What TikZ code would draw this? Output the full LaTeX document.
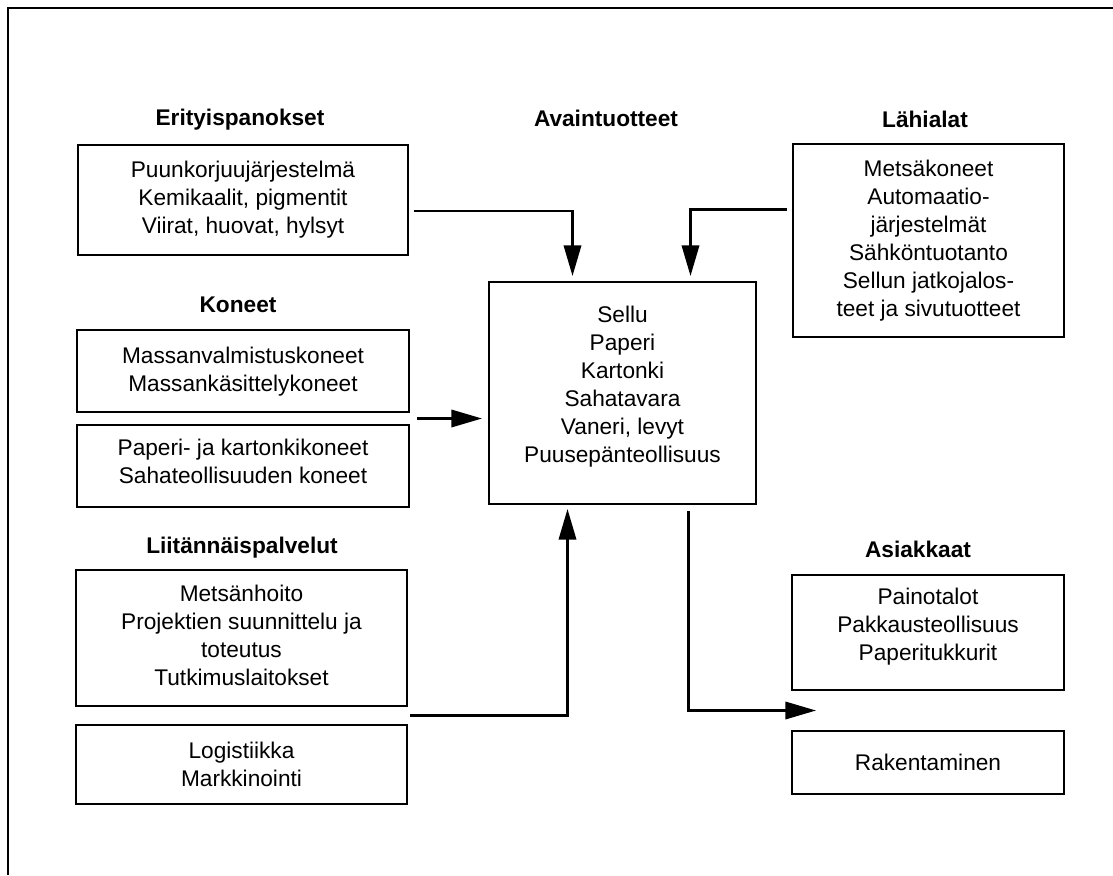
\documentclass[tikz,border=0pt]{standalone}
\usepackage{fontspec}
\setmainfont{Liberation Sans}
\usetikzlibrary{arrows.meta,calc}
\newcommand{\boxfont}{\fontsize{17}{21}\selectfont}
\begin{document}
\begin{tikzpicture}[x=0.75pt,y=-0.75pt,
  box/.style={draw,line width=1.5pt,inner sep=0pt,align=center,font=\boxfont},
  ttl/.style={font=\boxfont\bfseries,inner sep=0pt,anchor=base},
  arr/.style={line width=1.9pt,-{Triangle[length=23pt,width=13pt]}},
  frame/.style={line width=1.2pt}]
\useasboundingbox (0,0) rectangle (1113,875);
\coordinate (fa) at (1113,8);
\coordinate (fb) at (8,8);
\coordinate (fc) at (8,875);
\draw[frame] (fa) -- (fb) -- (fc);

% titles
\node[ttl] (t1) at (240,125) {Erityispanokset};
\node[ttl] (t2) at (238,312) {Koneet};
\node[ttl] (t3) at (242,553) {Liitännäispalvelut};
\node[ttl] (t4) at (606,126) {Avaintuotteet};
\node[ttl] (t5) at (925,127) {Lähialat};
\node[ttl] (t6) at (918,557) {Asiakkaat};

% boxes
\node[box,minimum width=247.5pt,minimum height=82.5pt] (b1) at (243,200)
  {Puunkorjuujärjestelmä\\Kemikaalit, pigmentit\\Viirat, huovat, hylsyt};
\node[box,minimum width=249pt,minimum height=61.5pt,text depth=3pt] (b2) at (243,371)
  {Massanvalmistuskoneet\\Massankäsittelykoneet};
\node[box,minimum width=249pt,minimum height=61.5pt,text depth=7.5pt] (b3) at (243,466)
  {Paperi- ja kartonkikoneet\\Sahateollisuuden koneet};
\node[box,minimum width=248.25pt,minimum height=102pt,text depth=4.5pt] (b4) at (241.5,638)
  {Metsänhoito\\Projektien suunnittelu ja\\toteutus\\Tutkimuslaitokset};
\node[box,minimum width=248.25pt,minimum height=59.25pt] (b5) at (241.5,764.5)
  {Logistiikka\\Markkinointi};
\node[box,minimum width=200.25pt,minimum height=166.5pt,text depth=12.6pt] (c) at (622.5,393)
  {Sellu\\Paperi\\Kartonki\\Sahatavara\\Vaneri, levyt\\Puusepänteollisuus};
\node[box,minimum width=203.25pt,minimum height=144.75pt] (l) at (928.5,240.5)
  {Metsäkoneet\\Automaatio-\\järjestelmät\\Sähköntuotanto\\Sellun jatkojalos-\\teet ja sivutuotteet};
\node[box,minimum width=204pt,minimum height=86.25pt,text depth=12.6pt] (b6) at (928,632.5)
  {Painotalot\\Pakkausteollisuus\\Paperitukkurit};
\node[box,minimum width=204pt,minimum height=47.25pt] (b7) at (928,762.5)
  {Rakentaminen};

% connectors
\draw[arr] ([shift={(5,11)}]b1.east) -| ([shift={(-50,-5)}]c.north);
\draw[arr] ([shift={(-5,-31)}]l.west) -| ([shift={(68,-5)}]c.north);
\coordinate (k3) at ($(b2.south east)!0.5!(b3.north east)+(7,0)$);
\coordinate (e3) at ($(k3 -| c.west)+(-6,0)$);
\draw[arr] (k3) -- (e3);
\coordinate (k4) at ($(b4.south east)!0.5!(b5.north east)+(2,0)$);
\draw[arr] (k4) -| ([shift={(-55,4)}]c.south);
\coordinate (e5) at ($(b6.south west)!0.5!(b7.north west)+(25,0)$);
\draw[arr] ([shift={(66,6)}]c.south) |- (e5);
\end{tikzpicture}
\end{document}
